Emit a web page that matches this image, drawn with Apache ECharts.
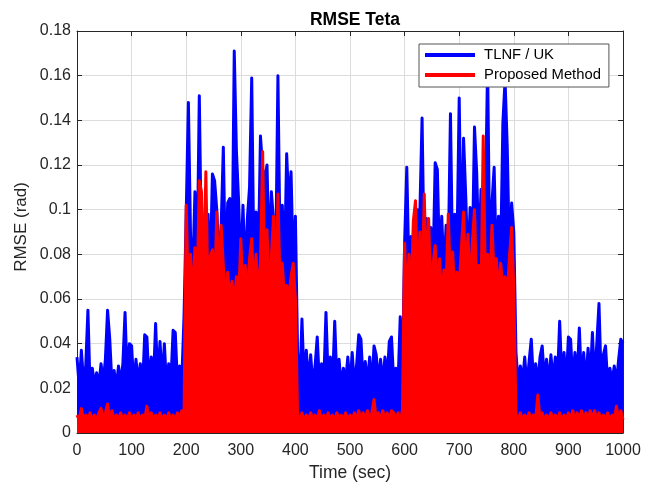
<!DOCTYPE html>
<html><head><meta charset="utf-8">
<script src="https://cdn.jsdelivr.net/npm/echarts@6/dist/echarts.min.js"></script>
<style>html,body{margin:0;padding:0;background:#fff}#c{width:654px;height:487px}</style>
</head><body><div id="c"></div>
<script>
// Sample step in seconds (time grid 0..1000)
const timeStep = 4;
const xTicks = [0,100,200,300,400,500,600,700,800,900,1000];
const yTicks = [0,0.02,0.04,0.06,0.08,0.1,0.12,0.14,0.16,0.18];
const seriesNames = ['TLNF / UK', 'Proposed Method'];

// RMSE (rad), TLNF / UK
const tlnfUK = [
0.034,0.021,0.037,0.023,0.030,0.055,0.020,0.029,0.022,0.027,
0.021,0.031,0.023,0.033,0.055,0.042,0.022,0.028,0.020,0.030,
0.022,0.031,0.054,0.024,0.040,0.039,0.021,0.033,0.023,0.031,
0.020,0.044,0.043,0.022,0.034,0.023,0.049,0.022,0.041,0.023,
0.040,0.021,0.031,0.023,0.046,0.045,0.022,0.030,0.024,0.052,
0.098,0.148,0.088,0.072,0.108,0.075,0.151,0.080,0.094,0.074,
0.098,0.072,0.116,0.113,0.100,0.078,0.092,0.128,0.070,0.103,
0.105,0.074,0.171,0.126,0.104,0.073,0.102,0.071,0.096,0.110,
0.159,0.075,0.099,0.076,0.133,0.118,0.114,0.120,0.078,0.108,
0.095,0.078,0.160,0.081,0.102,0.074,0.125,0.102,0.117,0.075,
0.097,0.036,0.021,0.051,0.023,0.037,0.022,0.035,0.021,0.030,
0.043,0.022,0.031,0.023,0.054,0.024,0.034,0.022,0.050,0.023,
0.033,0.021,0.029,0.023,0.034,0.021,0.036,0.022,0.030,0.044,
0.042,0.023,0.032,0.022,0.034,0.021,0.039,0.035,0.023,0.033,
0.022,0.034,0.024,0.041,0.043,0.023,0.029,0.022,0.052,0.024,
0.085,0.119,0.072,0.088,0.087,0.074,0.100,0.099,0.141,0.075,
0.096,0.074,0.092,0.073,0.121,0.118,0.076,0.097,0.072,0.093,
0.079,0.143,0.074,0.098,0.084,0.150,0.077,0.132,0.106,0.075,
0.101,0.078,0.137,0.117,0.080,0.109,0.074,0.102,0.165,0.078,
0.103,0.119,0.076,0.097,0.080,0.139,0.158,0.128,0.079,0.103,
0.090,0.036,0.022,0.030,0.023,0.034,0.021,0.032,0.042,0.023,
0.031,0.022,0.034,0.039,0.024,0.033,0.022,0.035,0.023,0.034,
0.024,0.050,0.024,0.036,0.022,0.043,0.042,0.023,0.036,0.024,
0.047,0.023,0.036,0.022,0.038,0.024,0.045,0.023,0.040,0.058,
0.024,0.035,0.039,0.022,0.029,0.023,0.030,0.022,0.033,0.042,
0.040
];

// RMSE (rad), Proposed Method
const proposed = [
0.008,0.006,0.011,0.006,0.008,0.006,0.009,0.006,0.008,0.006,
0.009,0.011,0.006,0.009,0.013,0.006,0.010,0.006,0.008,0.006,
0.009,0.006,0.008,0.006,0.009,0.006,0.008,0.006,0.009,0.006,
0.008,0.006,0.012,0.006,0.009,0.006,0.008,0.006,0.009,0.006,
0.008,0.006,0.009,0.006,0.008,0.006,0.009,0.006,0.010,0.006,
0.102,0.062,0.080,0.058,0.083,0.064,0.113,0.108,0.066,0.117,
0.060,0.079,0.082,0.063,0.099,0.061,0.093,0.075,0.058,0.072,
0.060,0.068,0.057,0.070,0.059,0.087,0.062,0.075,0.060,0.078,
0.087,0.064,0.080,0.061,0.076,0.126,0.066,0.091,0.063,0.079,
0.097,0.062,0.107,0.065,0.076,0.060,0.066,0.061,0.070,0.076,
0.060,0.008,0.006,0.009,0.006,0.008,0.006,0.009,0.006,0.008,
0.006,0.010,0.006,0.008,0.006,0.009,0.006,0.008,0.006,0.009,
0.006,0.008,0.006,0.009,0.006,0.008,0.006,0.009,0.006,0.010,
0.006,0.009,0.006,0.010,0.006,0.009,0.015,0.006,0.009,0.006,
0.010,0.006,0.009,0.006,0.010,0.009,0.006,0.009,0.006,0.010,
0.085,0.060,0.080,0.062,0.095,0.104,0.063,0.090,0.064,0.107,
0.067,0.096,0.062,0.075,0.084,0.063,0.078,0.060,0.073,0.064,
0.098,0.066,0.081,0.062,0.072,0.065,0.083,0.099,0.066,0.089,
0.063,0.085,0.100,0.064,0.075,0.062,0.133,0.066,0.080,0.063,
0.093,0.070,0.078,0.062,0.076,0.065,0.070,0.062,0.079,0.092,
0.065,0.008,0.006,0.009,0.006,0.008,0.006,0.009,0.006,0.008,
0.006,0.017,0.006,0.009,0.006,0.008,0.006,0.009,0.006,0.008,
0.006,0.009,0.006,0.008,0.006,0.009,0.006,0.010,0.006,0.009,
0.006,0.010,0.006,0.009,0.006,0.010,0.006,0.010,0.006,0.009,
0.006,0.008,0.006,0.009,0.006,0.008,0.006,0.012,0.006,0.010,
0.006
];

const time = tlnfUK.map((_, i) => i * timeStep);
const pairs = arr => arr.map((v, i) => [time[i], v]);

const FONT = "'Liberation Sans', Arial, Helvetica, sans-serif";
const AX = '#262626';
const GRID = '#dcdcdc';

const chart = echarts.init(document.getElementById('c'), null, {renderer: 'canvas'});
const baseX = {
  type: 'value', min: xTicks[0], max: xTicks[xTicks.length-1], interval: xTicks[1]-xTicks[0],
  axisLine: {show: true, onZero: false, lineStyle: {color: AX, width: 1}},
  axisTick: {show: true, inside: true, length: 5, lineStyle: {color: AX}},
  splitLine: {show: false}
};
const baseY = {
  type: 'value', min: yTicks[0], max: yTicks[yTicks.length-1], interval: yTicks[1]-yTicks[0],
  axisLine: {show: true, onZero: false, lineStyle: {color: AX, width: 1}},
  axisTick: {show: true, inside: true, length: 5, lineStyle: {color: AX}},
  splitLine: {show: false}
};
chart.setOption({
  animation: false,
  backgroundColor: '#fff',
  textStyle: {fontFamily: FONT},
  title: {
    text: 'RMSE Teta', left: 350, top: 6, textAlign: 'center',
    textStyle: {fontFamily: FONT, fontWeight: 'bold', fontSize: 17.5, color: '#000'}
  },
  grid: {left: 77, right: 31, top: 31, bottom: 49, containLabel: false},
  legend: {
    orient: 'vertical', left: 419, top: 44,
    data: seriesNames,
    formatter: name => ' ' + name,
    icon: 'rect', itemWidth: 50, itemHeight: 4, itemGap: 2,
    padding: [2, 8, 3, 6],
    backgroundColor: '#fff', borderColor: '#555', borderWidth: 1,
    textStyle: {fontFamily: FONT, fontSize: 14.8, color: '#000', lineHeight: 18}
  },
  graphic: [{
    type: 'text', x: 21, y: 227, rotation: Math.PI / 2,
    style: {text: 'RMSE (rad)', fontFamily: FONT, fontSize: 17, fill: AX,
      textAlign: 'center', textVerticalAlign: 'middle'}
  }],
  xAxis: [
    Object.assign({}, baseX, {
      position: 'bottom',
      name: 'Time (sec)', nameLocation: 'middle', nameGap: 31,
      nameTextStyle: {fontFamily: FONT, fontSize: 17.5, color: AX},
      axisLabel: {show: true, margin: 10, fontFamily: FONT, fontSize: 16, color: AX,
        formatter: v => String(v)},
      splitLine: {show: true, lineStyle: {color: GRID, width: 1}}
    }),
    Object.assign({}, baseX, {position: 'top', axisLabel: {show: false}})
  ],
  yAxis: [
    Object.assign({}, baseY, {
      position: 'left',
      axisLabel: {show: true, margin: 6, fontFamily: FONT, fontSize: 16, color: AX,
        formatter: v => String(+v.toFixed(2))},
      splitLine: {show: true, lineStyle: {color: GRID, width: 1}}
    }),
    Object.assign({}, baseY, {position: 'right', axisLabel: {show: false}})
  ],
  series: [
    {
      name: seriesNames[0], type: 'line', data: pairs(tlnfUK),
      xAxisIndex: 0, yAxisIndex: 0,
      showSymbol: false, symbol: 'none', sampling: null, clip: true,
      color: '#0000ff',
      lineStyle: {color: '#0000ff', width: 3, join: 'round'},
      areaStyle: {color: '#0000ff', opacity: 1, origin: 'start'},
      z: 2
    },
    {
      name: seriesNames[1], type: 'line', data: pairs(proposed),
      xAxisIndex: 0, yAxisIndex: 0,
      showSymbol: false, symbol: 'none', sampling: null, clip: true,
      color: '#ff0000',
      lineStyle: {color: '#ff0000', width: 3, join: 'round'},
      areaStyle: {color: '#ff0000', opacity: 1, origin: 'start'},
      z: 3
    }
  ]
});
</script></body></html>
